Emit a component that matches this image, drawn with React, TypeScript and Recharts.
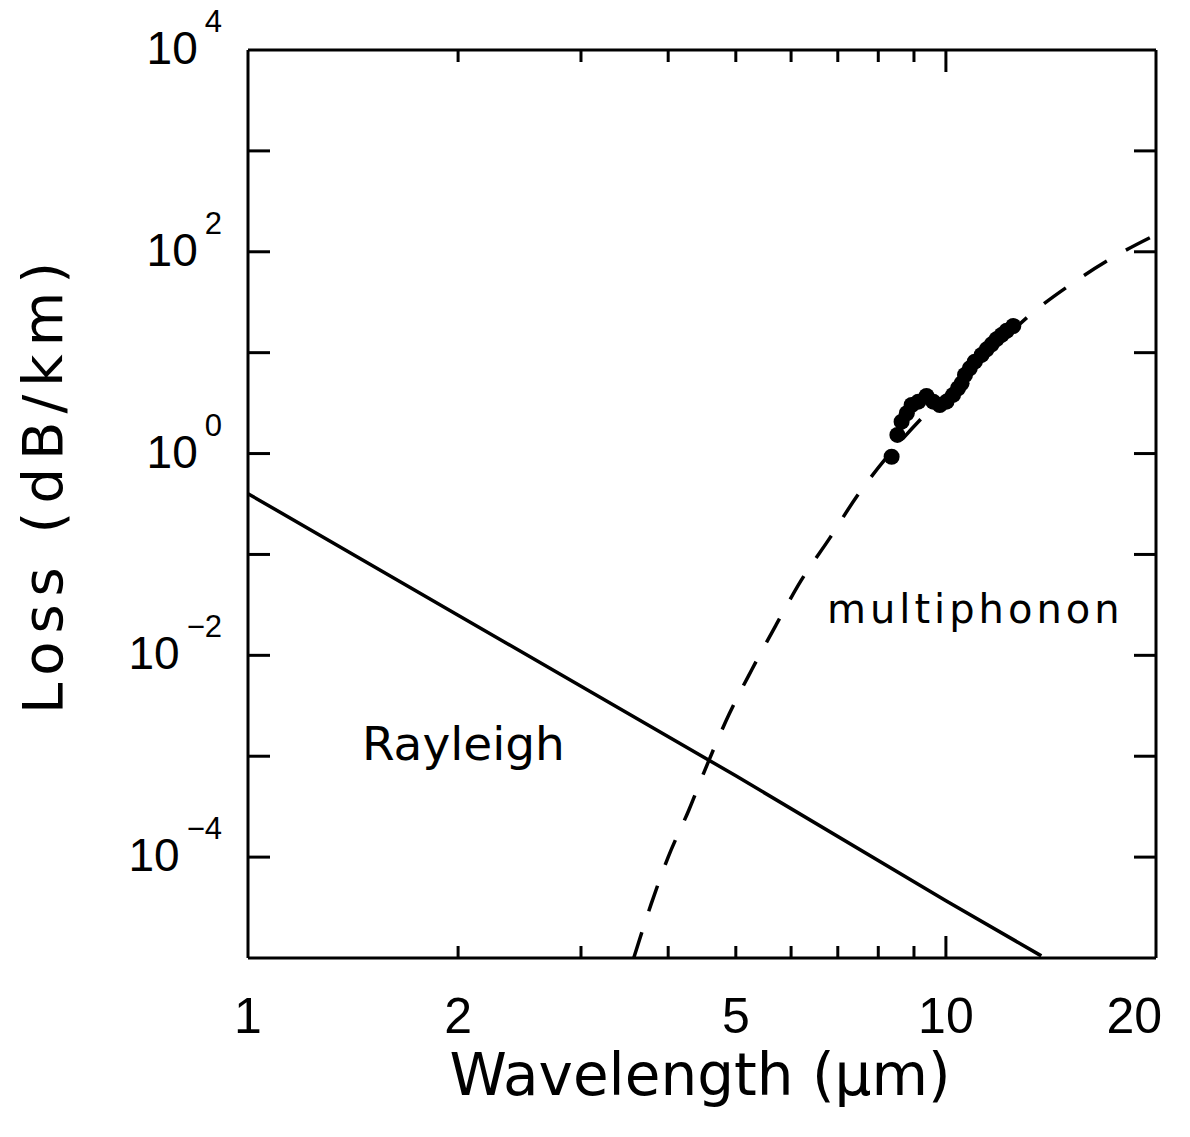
import React from 'react';
import { ComposedChart, Line, Scatter, XAxis, YAxis } from 'recharts';

// Rayleigh scattering (straight line on log-log)
const rayleighWavelength = [1, 2, 5, 10, 13.7];
const rayleighLoss = [0.4, 0.025, 6.4e-4, 3.7e-5, 1.05e-5];

// multiphonon edge (dashed)
const multiphononWavelength = [3.57, 3.78, 4.0, 4.28, 4.56, 4.89, 5.27, 5.71, 6.2, 6.82, 7.46, 8.23, 9.21, 11.0, 13.2, 15.2, 17.5, 20];
const multiphononLoss = [1.0e-5, 3.4e-5, 1.0e-4, 2.9e-4, 8.6e-4, 2.6e-3, 7.2e-3, 0.02, 0.055, 0.146, 0.38, 0.92, 2.2, 7.0, 23.7, 49, 91, 148];

// measured points
const measuredWavelength = [8.36, 8.52, 8.64, 8.79, 8.93, 9.13, 9.38, 9.59, 9.8, 10.02, 10.24, 10.41, 10.53, 10.65, 10.82, 11.0, 11.25, 11.44, 11.63, 11.82, 12.02, 12.22, 12.49];
const measuredLoss = [0.93, 1.53, 2.07, 2.51, 3.03, 3.27, 3.72, 3.27, 3.03, 3.27, 3.81, 4.44, 4.97, 6.01, 7.0, 8.15, 9.5, 10.8, 12.1, 13.6, 15.0, 16.5, 18.4];

const xTicks = [1, 2, 3, 4, 5, 6, 7, 8, 9, 10, 20];
const xLabels = [1, 2, 5, 10, 20];
const yTicks = [1e-5, 1e-4, 1e-3, 1e-2, 1e-1, 1, 1e1, 1e2, 1e3, 1e4];
const yLabelExponents = [4, 2, 0, -2, -4];

const toPoints = (xs: number[], ys: number[]) => xs.map((x, i) => ({ x, y: ys[i] }));
const rayleigh = toPoints(rayleighWavelength, rayleighLoss);
const multiphonon = toPoints(multiphononWavelength, multiphononLoss);
const measured = toPoints(measuredWavelength, measuredLoss);

const W = 1174;
const H = 1129;
const tickFont = 'Liberation Sans, Arial, sans-serif';
const textFont = 'DejaVu Sans, Verdana, sans-serif';

const BottomTick = (props: any) => {
  const { x, y, payload } = props;
  const v = payload.value;
  const len = v === 10 ? 22 : 12;
  const last = v === 20;
  return (
    <g>
      {v > 1 && v < 20 && <line x1={x} x2={x} y1={y} y2={y - len} stroke="#000" strokeWidth={3} />}
      {xLabels.includes(v) && (
        <text
          x={last ? x + 6 : x}
          y={y + 75}
          textAnchor={last ? 'end' : 'middle'}
          fontSize={50}
          fontFamily={tickFont}
          fill="#000"
        >
          {v}
        </text>
      )}
    </g>
  );
};

const TopTick = (props: any) => {
  const { x, y, payload } = props;
  const v = payload.value;
  const len = v === 10 ? 22 : 12;
  if (v <= 1 || v >= 20) return <g />;
  return <line x1={x} x2={x} y1={y} y2={y + len} stroke="#000" strokeWidth={3} />;
};

const LeftTick = (props: any) => {
  const { x, y, payload } = props;
  const exp = Math.round(Math.log10(payload.value));
  const edge = exp === 4 || exp === -5;
  return (
    <g>
      {!edge && <line x1={x} x2={x + 22} y1={y} y2={y} stroke="#000" strokeWidth={3} />}
      {yLabelExponents.includes(exp) && (
        <text x={x - 26} y={y + 14} textAnchor="end" fontSize={46} fontFamily={tickFont} fill="#000">
          10
          <tspan dx={7} dy={-32} fontSize={31}>
            {exp < 0 ? `\u2212${-exp}` : `${exp}`}
          </tspan>
        </text>
      )}
    </g>
  );
};

const RightTick = (props: any) => {
  const { x, y, payload } = props;
  const exp = Math.round(Math.log10(payload.value));
  if (exp === 4 || exp === -5) return <g />;
  return <line x1={x} x2={x - 22} y1={y} y2={y} stroke="#000" strokeWidth={3} />;
};

const Dot = (props: any) => <circle cx={props.cx} cy={props.cy} r={8} fill="#000" />;

export default function App() {
  const axisLine = { stroke: '#000', strokeWidth: 3 };
  return (
    <div style={{ position: 'relative', width: W, height: H, marginTop: -8, background: '#fff' }}>
      <ComposedChart width={W} height={H} margin={{ top: 0, right: 0, bottom: 0, left: 0 }}>
        <XAxis
          dataKey="x"
          type="number"
          scale="log"
          domain={[1, 20]}
          allowDataOverflow
          ticks={xTicks}
          interval={0}
          height={171}
          tickSize={0}
          tickMargin={0}
          tickLine={false}
          axisLine={axisLine}
          tick={<BottomTick />}
        />
        <XAxis
          xAxisId="top"
          orientation="top"
          dataKey="x"
          type="number"
          scale="log"
          domain={[1, 20]}
          allowDataOverflow
          ticks={xTicks}
          interval={0}
          height={50}
          tickSize={0}
          tickMargin={0}
          tickLine={false}
          axisLine={axisLine}
          tick={<TopTick />}
        />
        <YAxis
          dataKey="y"
          type="number"
          scale="log"
          domain={[1e-5, 1e4]}
          allowDataOverflow
          ticks={yTicks}
          interval={0}
          width={240}
          tickSize={0}
          tickMargin={0}
          tickLine={false}
          axisLine={axisLine}
          tick={<LeftTick />}
        />
        <YAxis
          yAxisId="right"
          orientation="right"
          dataKey="y"
          type="number"
          scale="log"
          domain={[1e-5, 1e4]}
          allowDataOverflow
          ticks={yTicks}
          interval={0}
          width={26}
          tickSize={0}
          tickMargin={0}
          tickLine={false}
          axisLine={axisLine}
          tick={<RightTick />}
        />
        <Line
          data={rayleigh}
          dataKey="y"
          type="linear"
          stroke="#000"
          strokeWidth={3.5}
          dot={false}
          isAnimationActive={false}
        />
        <Line
          data={multiphonon}
          dataKey="y"
          type="monotone"
          stroke="#000"
          strokeWidth={3.5}
          strokeDasharray="27 22"
          dot={false}
          isAnimationActive={false}
        />
        <Scatter data={measured} dataKey="y" fill="#000" shape={<Dot />} isAnimationActive={false} />
      </ComposedChart>
      <svg width={W} height={H} style={{ position: 'absolute', left: 0, top: 0, pointerEvents: 'none' }}>
        <text x={692} y={1095} textAnchor="middle" fontSize={58} fontFamily={textFont} fill="#000">
          Wavelength (μm)
        </text>
        <text
          transform="translate(54,484) rotate(-90)"
          textAnchor="middle"
          fontSize={56}
          letterSpacing={8}
          fontFamily={textFont}
          fill="#000"
        >
          Loss (dB/km)
        </text>
        <text x={354} y={760} fontSize={47} fontFamily={textFont} fill="#000">
          Rayleigh
        </text>
        <text x={819} y={623} fontSize={40} letterSpacing={4} fontFamily={textFont} fill="#000">
          multiphonon
        </text>
      </svg>
    </div>
  );
}
